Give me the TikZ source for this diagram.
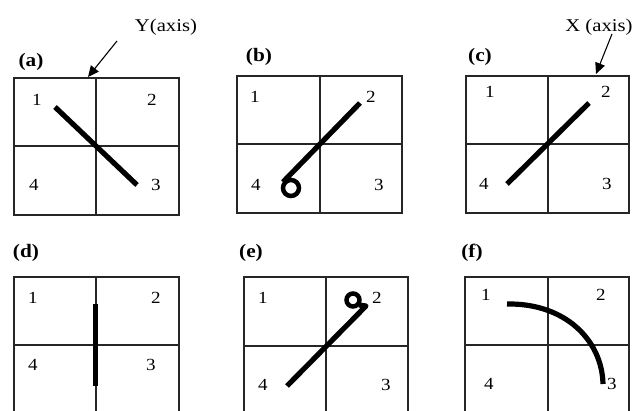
\documentclass[tikz,border=0pt]{standalone}
\usepackage{fontspec}
\setmainfont{Liberation Serif}
\usetikzlibrary{arrows.meta}
\begin{document}
\begin{tikzpicture}[x=1pt,y=-1pt,
  grid/.style={line width=1.2pt,black!85},
  thick path/.style={line width=5.2pt,black},
  loop/.style={line width=4.5pt,black},
  num/.style={font=\fontsize{17}{17}\selectfont,xscale=1.12,inner sep=0pt},
  plabel/.style={font=\fontsize{19}{19}\selectfont\bfseries,xscale=1.12,inner sep=0pt},
  axislabel/.style={font=\fontsize{18}{18}\selectfont,xscale=1.15,inner sep=0pt},
  pointer/.style={line width=1.1pt,-{Triangle[length=11pt,width=10pt]}}]
\useasboundingbox (0,0) rectangle (641,411);
% ---------- (a)
\draw[grid] (14,78) rectangle (179,215) (96,78) -- (96,215) (14,146) -- (179,146);
\node[plabel] (la) at (31,62) {(a)};
\node[num] (a1) at (37,100) {1};
\node[num] (a2) at (152,100) {2};
\node[num] (a4) at (34,185) {4};
\node[num] (a3) at (156,185) {3};
\coordinate (aS) at (55,107);
\coordinate (aE) at (137,185);
\draw[thick path] (aS) -- (aE);
\node[axislabel] (yax) at (166,27) {Y(axis)};
\coordinate (yfrom) at (117,41);
\coordinate (yto) at (88,77);
\draw[pointer] (yfrom) -- (yto);
% ---------- (b)
\draw[grid] (237,76) rectangle (402,213) (320,76) -- (320,213) (237,144) -- (402,144);
\node[plabel] (lb) at (259,57) {(b)};
\node[num] (b1) at (255,97) {1};
\node[num] (b2) at (371,97) {2};
\node[num] (b4) at (256,185) {4};
\node[num] (b3) at (379,185) {3};
\coordinate (bS) at (360,103);
\coordinate (bE) at (283,182);
\coordinate (bC) at (291,188);
\draw[thick path] (bS) -- (bE);
\draw[loop] (bC) circle[radius=8pt];
% ---------- (c)
\draw[grid] (466,76) rectangle (629,213) (548,76) -- (548,213) (466,144) -- (629,144);
\node[plabel] (lc) at (480,57) {(c)};
\node[num] (c1) at (490,92) {1};
\node[num] (c2) at (606,92) {2};
\node[num] (c4) at (484,184) {4};
\node[num] (c3) at (607,184) {3};
\coordinate (cS) at (589,103);
\coordinate (cE) at (507,184);
\draw[thick path] (cS) -- (cE);
\node[axislabel] (xax) at (599,27) {X (axis)};
\coordinate (xfrom) at (612,34);
\coordinate (xto) at (596,74);
\draw[pointer] (xfrom) -- (xto);
% ---------- (d)
\draw[grid] (14,411) -- (14,277) -- (179,277) -- (179,411) (96,277) -- (96,411) (14,345) -- (179,345);
\node[plabel] (ld) at (26,253) {(d)};
\node[num] (d1) at (33,298) {1};
\node[num] (d2) at (156,298) {2};
\node[num] (d4) at (33,365) {4};
\node[num] (d3) at (151,365) {3};
\coordinate (dS) at (95.5,304);
\coordinate (dE) at (95.5,386);
\draw[line width=5.5pt,black] (dS) -- (dE);
% ---------- (e)
\draw[grid] (244,411) -- (244,277) -- (408,277) -- (408,411) (326,277) -- (326,411) (244,346) -- (408,346);
\node[plabel] (le) at (251,253) {(e)};
\node[num] (e1) at (263,298) {1};
\node[num] (e2) at (377,298) {2};
\node[num] (e4) at (263,385) {4};
\node[num] (e3) at (386,385) {3};
\coordinate (eS) at (287,386);
\coordinate (eE) at (366,306);
\coordinate (eC) at (353,300);
\draw[thick path,line join=round] (eS) -- (eE) -- (359,305);
\draw[loop] (eC) circle[radius=6.5pt];
% ---------- (f)
\draw[grid] (465,411) -- (465,277) -- (629,277) -- (629,411) (548,277) -- (548,411) (465,345) -- (629,345);
\node[plabel] (lf) at (472,253) {(f)};
\node[num] (f1) at (486,295) {1};
\node[num] (f2) at (601,295) {2};
\node[num] (f4) at (489,384) {4};
\node[num] (f3) at (612,384) {3};
\coordinate (fS) at (507,304);
\coordinate (fE) at (603,384);
\draw[thick path] (fS) .. controls (565,303) and (602,340) .. (fE);
\end{tikzpicture}
\end{document}
